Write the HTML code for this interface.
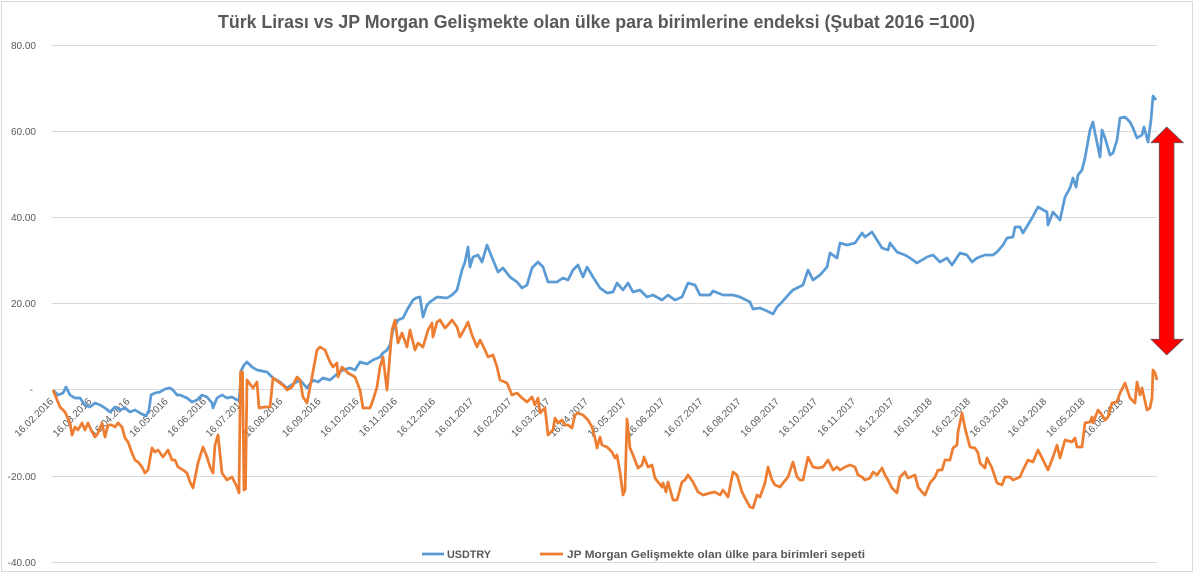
<!DOCTYPE html>
<html><head><meta charset="utf-8"><style>
html,body{margin:0;padding:0;background:#fff;}
svg{display:block;}
text{font-family:"Liberation Sans",Arial,sans-serif;fill:#595959;}
</style></head><body>
<svg width="1200" height="582" viewBox="0 0 1200 582" xmlns="http://www.w3.org/2000/svg">
<rect x="0" y="0" width="1200" height="582" fill="#fff"/>
<rect x="1.5" y="1.5" width="1191" height="570" fill="none" stroke="#d9d9d9" stroke-width="1"/>
<text x="218" y="28" font-size="18" font-weight="bold" textLength="757" lengthAdjust="spacingAndGlyphs">Türk Lirası vs JP Morgan Gelişmekte olan ülke para birimlerine endeksi (Şubat 2016 =100)</text>
<g stroke="#d9d9d9" stroke-width="1">
<line x1="52" y1="45.5" x2="1157" y2="45.5"/>
<line x1="52" y1="131.5" x2="1157" y2="131.5"/>
<line x1="52" y1="217.5" x2="1157" y2="217.5"/>
<line x1="52" y1="303.5" x2="1157" y2="303.5"/>
<line x1="52" y1="389.5" x2="1157" y2="389.5"/>
<line x1="52" y1="476.5" x2="1157" y2="476.5"/>
<line x1="52" y1="562.5" x2="1157" y2="562.5"/>
</g>
<g font-size="10" text-anchor="end">
<text x="36" y="49">80.00</text>
<text x="36" y="135">60.00</text>
<text x="36" y="221">40.00</text>
<text x="36" y="307">20.00</text>
<text x="33" y="393">-</text>
<text x="36" y="480">-20.00</text>
<text x="36" y="566">-40.00</text>
</g>
<g font-size="10" text-anchor="end">
<text transform="translate(54,402) rotate(-45)">16.02.2016</text>
<text transform="translate(92.2,402) rotate(-45)">16.03.2016</text>
<text transform="translate(130.4,402) rotate(-45)">16.04.2016</text>
<text transform="translate(168.6,402) rotate(-45)">16.05.2016</text>
<text transform="translate(206.8,402) rotate(-45)">16.06.2016</text>
<text transform="translate(245,402) rotate(-45)">16.07.2016</text>
<text transform="translate(283.2,402) rotate(-45)">16.08.2016</text>
<text transform="translate(321.4,402) rotate(-45)">16.09.2016</text>
<text transform="translate(359.6,402) rotate(-45)">16.10.2016</text>
<text transform="translate(397.8,402) rotate(-45)">16.11.2016</text>
<text transform="translate(436,402) rotate(-45)">16.12.2016</text>
<text transform="translate(474.2,402) rotate(-45)">16.01.2017</text>
<text transform="translate(512.4,402) rotate(-45)">16.02.2017</text>
<text transform="translate(550.6,402) rotate(-45)">16.03.2017</text>
<text transform="translate(588.8,402) rotate(-45)">16.04.2017</text>
<text transform="translate(627,402) rotate(-45)">16.05.2017</text>
<text transform="translate(665.2,402) rotate(-45)">16.06.2017</text>
<text transform="translate(703.4,402) rotate(-45)">16.07.2017</text>
<text transform="translate(741.6,402) rotate(-45)">16.08.2017</text>
<text transform="translate(779.8,402) rotate(-45)">16.09.2017</text>
<text transform="translate(818,402) rotate(-45)">16.10.2017</text>
<text transform="translate(856.2,402) rotate(-45)">16.11.2017</text>
<text transform="translate(894.4,402) rotate(-45)">16.12.2017</text>
<text transform="translate(932.6,402) rotate(-45)">16.01.2018</text>
<text transform="translate(970.8,402) rotate(-45)">16.02.2018</text>
<text transform="translate(1009,402) rotate(-45)">16.03.2018</text>
<text transform="translate(1047.2,402) rotate(-45)">16.04.2018</text>
<text transform="translate(1085.4,402) rotate(-45)">16.05.2018</text>
<text transform="translate(1123.6,402) rotate(-45)">16.06.2018</text>
</g>
<polyline fill="none" stroke="#5B9BD5" stroke-width="2.75" stroke-linejoin="round" points="53,390 58,395 63,393 66,387 70,395 75,398 80,398 85,405 90,407 95,403 100,405 105,408 110,412 115,407 120,410 125,408 130,412 135,410 140,413 146,416 149,410 151,395 155,393 160,392 165,389 170,388 173,390 177,395 180,395 187,398 192,402 197,400 202,395 207,397 212,403 213,408 217,398 222,395 227,398 232,397 237,400 239,400 240,390 241,371 244,365 247,362 252,367 257,370 262,371 267,372 273,378 280,382 287,388 293,384 300,380 307,388 313,380 318,382 323,378 330,380 337,374 343,370 350,368 355,370 360,362 367,364 373,360 380,357 383,353 387,350 390,345 393,330 398,320 403,318 407,310 413,300 416,298 420,297 423,317 427,305 430,302 437,297 447,298 452,295 457,290 462,270 465,262 468,247 470,267 473,257 478,255 482,262 487,245 493,260 498,272 503,268 510,277 517,282 522,288 527,285 532,268 538,262 543,267 548,282 557,282 563,278 568,280 573,270 578,265 583,277 587,267 593,277 600,288 607,293 613,292 617,283 623,290 628,283 633,292 640,290 647,297 653,295 662,300 668,295 675,300 682,297 688,283 695,285 700,295 710,295 713,291 723,295 733,295 740,297 750,302 753,309 760,308 767,311 773,314 777,307 782,302 790,293 793,290 803,285 808,270 813,280 820,275 827,267 830,253 837,258 840,243 847,245 855,243 862,233 865,237 872,232 877,240 882,248 888,250 890,243 897,252 905,255 910,258 917,263 922,260 927,257 933,255 940,262 947,258 952,265 960,253 967,255 972,262 977,258 985,255 993,255 997,252 1003,245 1007,238 1013,237 1015,227 1020,227 1023,233 1032,218 1038,207 1047,212 1048,225 1053,212 1060,220 1065,197 1070,188 1073,178 1076,187 1078,175 1082,170 1085,158 1090,130 1093,122 1095,133 1100,157 1102,130 1105,138 1110,155 1113,153 1117,140 1120,118 1125,117 1130,122 1133,128 1137,138 1142,135 1144,127 1148,142 1151,120 1153,96 1156,100"/>
<polyline fill="none" stroke="#ED7D31" stroke-width="2.75" stroke-linejoin="round" points="53,390 60,407 65,412 70,423 72,435 75,427 78,430 82,423 85,430 88,423 92,432 95,437 98,433 102,423 105,437 108,425 112,425 115,427 118,423 122,427 125,438 128,442 132,453 135,460 138,462 142,467 145,473 148,470 152,448 155,452 158,450 163,457 168,450 172,460 175,460 178,467 183,470 187,473 190,482 193,488 198,463 203,447 207,457 210,467 213,473 215,445 218,435 222,473 227,480 232,477 237,487 239,493 240.5,372 242.5,372 244,490 245.5,489 247,380 253,388 257,382 259,408 265,407 270,407 273,378 280,383 285,387 287,390 292,387 297,377 300,380 303,397 307,403 312,377 317,350 320,347 325,350 330,362 333,367 337,363 338,377 342,367 348,373 355,377 360,390 363,408 370,408 373,400 377,387 380,367 383,357 387,390 392,330 395,320 398,343 402,333 407,347 410,330 415,350 418,343 423,347 428,330 432,323 433,337 437,322 440,320 445,328 448,325 452,320 457,327 460,337 465,328 468,322 472,335 477,347 480,340 485,350 488,357 493,355 497,367 500,380 507,383 512,395 517,393 522,398 527,402 532,397 535,405 538,398 540,413 545,408 548,435 553,430 555,418 558,423 562,420 565,425 568,425 572,428 575,415 578,413 583,415 588,420 592,427 595,438 597,448 600,437 602,445 607,447 612,452 615,458 617,455 620,472 623,495 625,490 627,419 630,448 633,455 638,468 642,465 644,457 648,467 652,465 655,478 658,482 662,487 663,483 666,492 668,482 673,500 677,500 682,482 685,480 688,475 693,482 698,492 703,495 710,493 715,492 720,495 723,490 728,497 733,472 737,475 742,492 745,498 750,507 753,508 757,495 760,497 765,483 768,467 772,480 775,485 780,487 783,483 788,477 793,462 797,477 800,480 803,480 808,457 813,467 818,468 823,467 828,460 833,470 837,467 840,470 845,467 850,465 855,467 858,475 862,477 865,480 870,478 873,472 877,475 882,468 885,475 888,480 892,488 897,493 900,477 905,472 908,478 915,475 918,487 922,492 925,495 930,483 935,477 938,470 942,470 945,460 950,460 953,448 957,445 958,432 962,413 965,428 970,447 975,448 978,453 980,463 985,468 987,458 992,468 997,483 1002,485 1005,477 1010,477 1013,480 1020,477 1023,470 1028,460 1033,462 1038,450 1043,460 1048,470 1053,457 1057,445 1060,458 1065,440 1072,442 1075,438 1077,447 1082,447 1085,423 1090,422 1092,417 1093,423 1098,410 1102,415 1105,420 1108,417 1112,403 1117,402 1120,393 1125,383 1128,392 1130,398 1135,403 1137,382 1140,395 1142,388 1147,410 1150,408 1152,398 1153,370 1155,373 1157,380"/>
<polygon points="1166.7,127 1183.3,142.7 1174,142.7 1174,339.3 1183.3,339.3 1166.7,355 1151,339.3 1159.3,339.3 1159.3,142.7 1151,142.7" fill="#ff0000" stroke="#6b5560" stroke-width="0.8"/>
<line x1="422" y1="554" x2="444" y2="554" stroke="#5B9BD5" stroke-width="2.75"/>
<text x="447" y="558" font-size="11" font-weight="bold" textLength="44" lengthAdjust="spacingAndGlyphs">USDTRY</text>
<line x1="540" y1="554" x2="563" y2="554" stroke="#ED7D31" stroke-width="2.75"/>
<text x="567" y="558" font-size="11" font-weight="bold" textLength="298" lengthAdjust="spacingAndGlyphs">JP Morgan Gelişmekte olan ülke para birimleri sepeti</text>
</svg>
</body></html>
